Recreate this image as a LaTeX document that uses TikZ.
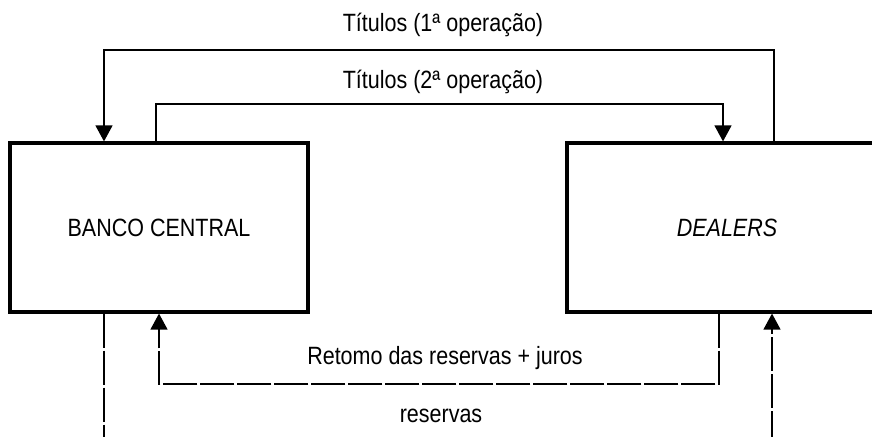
\documentclass[tikz,border=0pt]{standalone}
\usepackage{fontspec}
\setmainfont{Liberation Sans}[FakeStretch=0.86]
\usepackage{tikz}
\usetikzlibrary{arrows.meta}
\tikzstyle{every box node}=[draw,line width=1.6pt,inner sep=0pt]
\tikzset{
  flux/.style={line width=0.65pt,-{Triangle[length=8pt,width=8.5pt]}},
  fluxd/.style={flux,dash pattern=on 17pt off 1.5pt},
  plain/.style={line width=0.65pt},
  plaind/.style={plain,dash pattern=on 17pt off 1.5pt}
}

\begin{document}
\begin{tikzpicture}[x=0.5pt,y=-0.5pt,font=\fontsize{12.5}{15}\selectfont]
\useasboundingbox (0,0) rectangle (872,437);

\node[draw,line width=1.6pt,minimum width=149pt,minimum height=84.5pt] (bc) at (159,227.5) {BANCO CENTRAL};
\node[draw,line width=1.6pt,minimum width=160pt,minimum height=84.5pt] (dl) at (727,227.5) {\itshape DEALERS};

% corners
\coordinate (c1l) at (104,50);
\coordinate (c1r) at (774,50);
\coordinate (c2l) at (156,104);
\coordinate (c2r) at (723,104);
\coordinate (c3l) at (159,384);
\coordinate (c3r) at (719,384);
\coordinate (r1) at (104,445);
\coordinate (r2) at (772,445);

\draw[flux] (dl.north -| c1r) -- (c1r) -- (c1l) -- (bc.north -| c1l);
\draw[flux] (bc.north -| c2l) -- (c2l) -- (c2r) -- (dl.north -| c2r);
\draw[fluxd] (dl.south -| c3r) -- (c3r) -- (c3l) -- (bc.south -| c3l);
\draw[plaind] (bc.south -| r1) -- (r1);
\draw[fluxd] (r2) -- (dl.south -| r2);

\node (t1) at (443,25) {Títulos (1ª operação)};
\node (t2) at (443,82) {Títulos (2ª operação)};
\node (rj) at (445,358) {Retomo das reservas + juros};
\node (rs) at (441,416) {reservas};

\end{tikzpicture}
\end{document}
